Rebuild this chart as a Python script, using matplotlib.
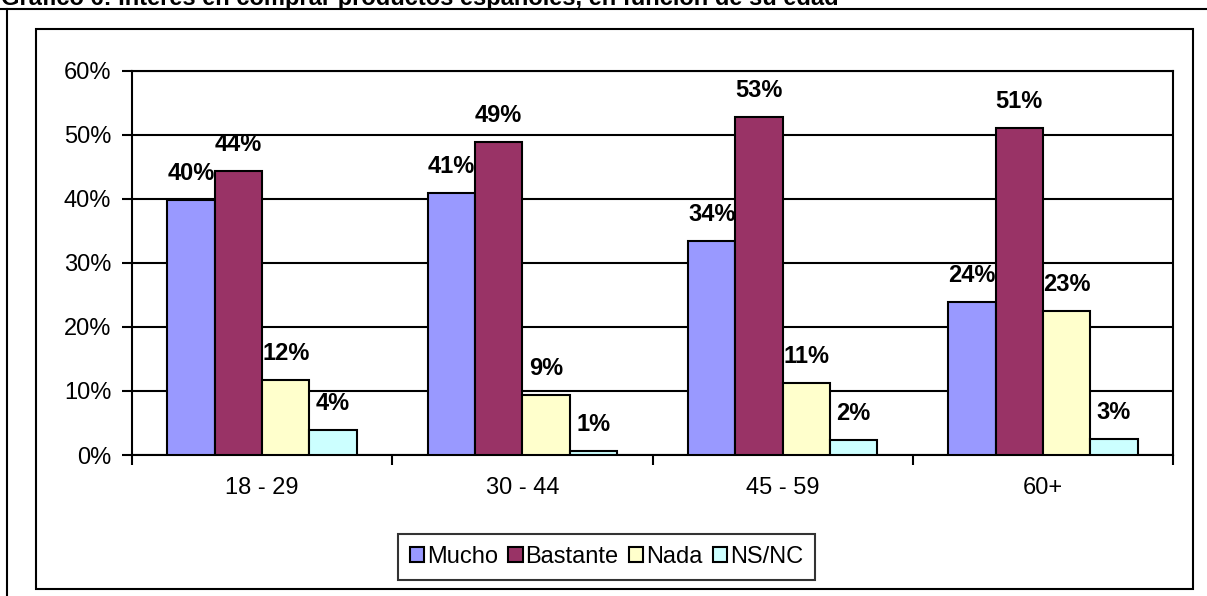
import matplotlib
matplotlib.use("Agg")
import matplotlib.pyplot as plt
from matplotlib.patches import Rectangle
from matplotlib.lines import Line2D
import numpy as np

plt.rcParams['font.family'] = ['Liberation Sans', 'DejaVu Sans']

categories = ["18 - 29", "30 - 44", "45 - 59", "60+"]
series_names = ["Mucho", "Bastante", "Nada", "NS/NC"]
mucho = [39.8, 40.9, 33.4, 23.9]
bastante = [44.3, 48.9, 52.8, 51.1]
nada = [11.7, 9.4, 11.2, 22.5]
nsnc = [3.9, 0.7, 2.4, 2.5]
labels = [["40%", "41%", "34%", "24%"],
          ["44%", "49%", "53%", "51%"],
          ["12%", "9%", "11%", "23%"],
          ["4%", "1%", "2%", "3%"]]
colors = ["#9999FF", "#993366", "#FFFFCC", "#CCFFFF"]
yticks = [0, 10, 20, 30, 40, 50, 60]
title = "Gráfico 6: Interés en comprar productos españoles, en función de su edad"

W, H = 1207, 596
fig = plt.figure(figsize=(W / 100, H / 100), dpi=100)

def fx(px):
    return px / W

def fy(py):
    return 1 - py / H

# page decorations
fig.add_artist(Line2D([0, 1], [fy(9), fy(9)], color="black", lw=1.5))
fig.add_artist(Line2D([fx(7), fx(7)], [fy(9), 0], color="black", lw=1.5))
fig.add_artist(Rectangle((fx(36), fy(589)), fx(1193) - fx(36), fy(29) - fy(589),
                         fill=False, edgecolor="black", lw=1.5))
fig.text(fx(1), fy(5), title, fontsize=17, fontweight="bold", ha="left", va="baseline")

ax = fig.add_axes([fx(132), fy(455), fx(1173) - fx(132), fy(70.5) - fy(455)])

series = [mucho, bastante, nada, nsnc]
bw = 1 / 5.5
x = np.arange(len(categories))
for i, (vals, col) in enumerate(zip(series, colors)):
    pos = x - 2 * bw + (i + 0.5) * bw
    ax.bar(pos, vals, width=bw, color=col, edgecolor="black", lw=1.5,
           label=series_names[i], zorder=3)
    for xp, v, lab in zip(pos, vals, labels[i]):
        ax.annotate(lab, (xp, v), xytext=(0, 19), textcoords="offset points",
                    ha="center", va="center", fontsize=17, fontweight="bold", zorder=4)

ax.set_xlim(-0.5, len(categories) - 0.5)
ax.set_ylim(0, 60)
ax.set_yticks(yticks)
ax.set_yticklabels([f"{t}%" for t in yticks], fontsize=17)
ax.yaxis.grid(True, color="black", lw=1.5, zorder=0)
ax.set_axisbelow(True)
ax.tick_params(axis="y", length=7, width=1.5, direction="out", pad=8)

ax.set_xticks(np.arange(-0.5, len(categories), 1.0))
ax.set_xticklabels([])
ax.tick_params(axis="x", which="major", length=7, width=1.5, direction="out")
ax.set_xticks(x, minor=True)
ax.set_xticklabels(categories, minor=True, fontsize=17)
ax.tick_params(axis="x", which="minor", length=0, pad=16)

for s in ax.spines.values():
    s.set_color("black")
    s.set_linewidth(1.5)

leg = ax.legend(loc="center",
                bbox_to_anchor=((606.5 - 132) / (1173 - 132), -(557 - 455) / (455 - 70.5)),
                ncol=4, fontsize=17, frameon=True, fancybox=False,
                edgecolor="black", handlelength=0.6, handleheight=0.6,
                handletextpad=0.12, columnspacing=0.45, borderpad=0.5,
                borderaxespad=0)
leg.get_frame().set_linewidth(1.5)

fig.savefig("out.png", dpi=100)
